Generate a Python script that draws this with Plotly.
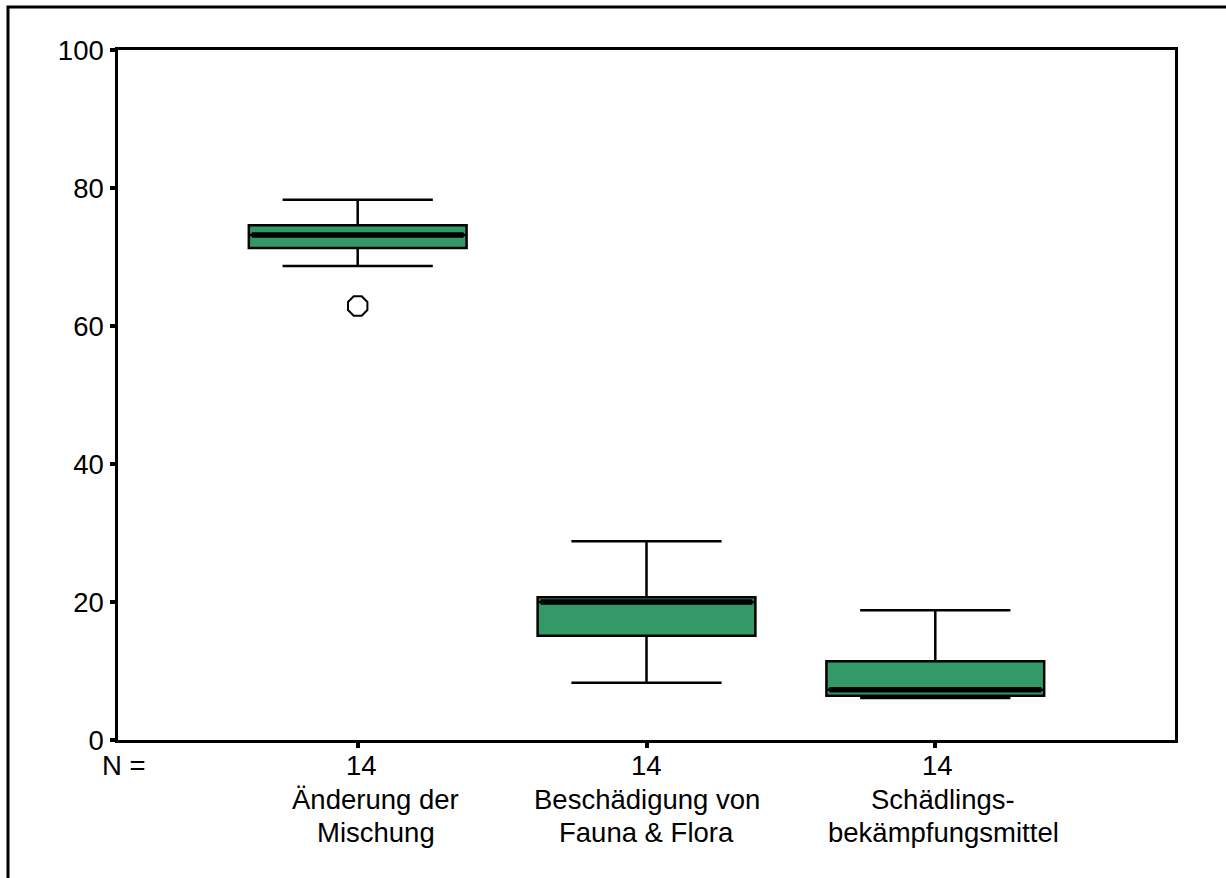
import plotly.graph_objects as go

# ---- data ----
label_line1 = ["Änderung der", "Beschädigung von", "Schädlings-"]
label_line2 = ["Mischung", "Fauna & Flora", "bekämpfungsmittel"]
n_values = [14, 14, 14]
q1 = [71.3, 15.1, 6.4]
median = [73.2, 20.0, 7.3]
q3 = [74.6, 20.7, 11.4]
lower_whisker = [68.7, 8.3, 6.1]
upper_whisker = [78.3, 28.8, 18.8]
outlier_cat = [0]
outlier_val = [62.9]
y_ticks = [0, 20, 40, 60, 80, 100]

pos = list(range(len(label_line1)))
BOX_W = 0.754
FONT = "Liberation Sans, Arial, sans-serif"
GREEN = "rgb(51,153,102)"
FS = 27.5

fig = go.Figure()
fig.add_trace(go.Box(
    x=pos, q1=q1, median=median, q3=q3,
    lowerfence=lower_whisker, upperfence=upper_whisker,
    width=BOX_W, whiskerwidth=0.69,
    fillcolor=GREEN, line=dict(color="black", width=2.5),
    boxpoints=False, showlegend=False, hoverinfo="skip",
))
# thick median lines
for p, m in zip(pos, median):
    fig.add_trace(go.Scatter(
        x=[p - BOX_W / 2 + 0.01, p + BOX_W / 2 - 0.01], y=[m, m], mode="lines",
        line=dict(color="black", width=5.5), showlegend=False, hoverinfo="skip",
    ))
# outlier
fig.add_trace(go.Scatter(
    x=outlier_cat, y=outlier_val, mode="markers",
    marker=dict(symbol="octagon-open", size=21, color="black", line=dict(width=2, color="black")),
    showlegend=False, hoverinfo="skip",
))

# bottom labels
xshift = [18, 0, 8]
ann = [dict(text="N =", x=(124 - 118) / 1057, y=(740 - 765) / 690, xref="paper", yref="paper",
            showarrow=False, font=dict(family=FONT, size=FS, color="black"),
            xanchor="center", yanchor="middle")]
for p, n, l1, l2, xs in zip(pos, n_values, label_line1, label_line2, xshift):
    ann.append(dict(text=str(n), x=p, y=(740 - 765) / 690, xref="x", yref="paper", xshift=xs // 4,
                    showarrow=False, font=dict(family=FONT, size=FS, color="black"),
                    xanchor="center", yanchor="middle"))
    for txt, ypx in ((l1, 799), (l2, 833)):
        ann.append(dict(text=txt, x=p, y=(740 - ypx) / 690, xref="x", yref="paper", xshift=xs,
                        showarrow=False, font=dict(family=FONT, size=FS, color="black"),
                        xanchor="center", yanchor="middle"))

fig.update_layout(
    width=1226, height=878,
    margin=dict(l=118, r=51, t=50, b=138, pad=0),
    paper_bgcolor="white", plot_bgcolor="white",
    font=dict(family=FONT, size=FS, color="black"),
    annotations=ann,
    shapes=[dict(type="rect", xref="paper", yref="paper",
                 x0=(8 - 118) / 1057, x1=1.3, y0=-0.4, y1=(740 - 7) / 690,
                 line=dict(color="black", width=3), fillcolor="rgba(0,0,0,0)", layer="below")],
    xaxis=dict(range=[-0.83, 2.83], showgrid=False, zeroline=False,
               showline=True, mirror=True, linecolor="black", linewidth=2.5,
               tickvals=pos, ticktext=["", "", ""], ticks="outside", ticklen=5, tickwidth=4,
               tickcolor="black", showticklabels=False),
    yaxis=dict(range=[0, 100], showgrid=False, zeroline=False,
               showline=True, mirror=True, linecolor="black", linewidth=2.5,
               tickvals=y_ticks, ticks="outside", ticklen=5, tickwidth=4, tickcolor="black",
               tickfont=dict(family=FONT, size=FS, color="black"), ticklabelstandoff=1),
)

fig.write_html("out.html", config={"displayModeBar": False},
               post_script="document.body.style.margin='0';document.body.style.overflow='hidden';")
